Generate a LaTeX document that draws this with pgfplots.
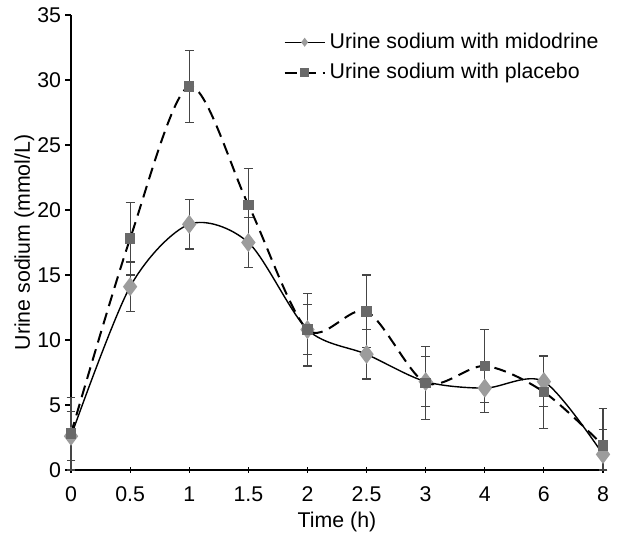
\documentclass[border=0pt]{standalone}
\usepackage{pgfplots}
\pgfplotsset{compat=1.18}
\usepackage{pgfplotstable}
\usepackage{fontspec}
\setmainfont{Liberation Sans}
\definecolor{midc}{HTML}{9C9C9C}
\definecolor{plac}{HTML}{696969}
\definecolor{errc}{HTML}{454545}
\pgfplotstableread{
x y ep em
0 2.6 1.9 1.9
1 14.1 1.9 1.9
2 18.9 1.9 1.9
3 17.5 1.9 1.9
4 10.8 1.9 1.9
5 8.9 1.9 1.9
6 6.8 1.9 1.9
7 6.3 1.9 1.9
8 6.8 1.9 1.9
9 1.2 1.9 1.2
}\middata
\pgfplotstableread{
x y ep em
0 2.8 2.8 2.8
1 17.8 2.8 2.8
2 29.5 2.8 2.8
3 20.4 2.8 2.8
4 10.8 2.8 2.8
5 12.2 2.8 2.8
6 6.7 2.8 2.8
7 8.0 2.8 2.8
8 6.0 2.8 2.8
9 1.9 2.8 1.9
}\placdata
\begin{document}
\begin{tikzpicture}
\path[use as bounding box] (-35.5bp,-33.5bp) rectangle (273.5bp,235bp);
\begin{axis}[
  at={(0,0)}, anchor=south west,
  scale only axis, width=266bp, height=227.5bp,
  xmin=0, xmax=9, ymin=0, ymax=35,
  clip=false,
  axis lines=left,
  axis line style={-, black, line width=0.6bp},
  xtick={0,...,9}, xticklabels={0,0.5,1,1.5,2,2.5,3,4,6,8},
  ytick={0,5,...,35},
  tick style={black, line width=0.6bp},
  xtick align=center, ytick align=outside,
  major tick length=2.8bp,
  tick label style={font=\fontsize{10.7}{12}\selectfont},
  yticklabel style={inner xsep=2bp},
  xticklabel style={yshift=-3.5bp},
  /pgf/number format/assume math mode=true,
  xlabel={Time (h)}, ylabel={Urine sodium (mmol/L)},
  label style={font=\fontsize{10.7}{12}\selectfont},
  xlabel style={yshift=2bp},
  ylabel style={yshift=-4bp},
  legend style={at={(rel axis cs:0.399,0.97)}, anchor=north west, draw=none, fill=none,
    font=\fontsize{10.7}{12}\selectfont, row sep=2bp, inner sep=0pt,
    cells={anchor=west}},
  legend image code/.code={\draw[mark repeat=2,mark phase=2,#1,mark size=1.7bp] plot coordinates {(0bp,0bp) (10bp,0bp) (20bp,0bp)};},
  error bars/error bar style={errc, line width=0.55bp, solid},
  error bars/error mark options={errc, line width=0.55bp, mark size=2.2bp, rotate=90, solid},
]
\addplot[black, line width=0.7bp, smooth, tension=0.5,
  mark=diamond*, mark size=4.2bp, mark options={fill=midc, draw=midc, solid},
  error bars/.cd, y dir=both, y explicit]
  table[x=x, y=y, y error plus=ep, y error minus=em] {\middata};
\addlegendentry{Urine sodium with midodrine}
\addplot[black, line width=1bp, dash pattern=on 6bp off 3.5bp, smooth, tension=0.5,
  mark=square*, mark size=2.1bp, mark options={fill=plac, draw=plac, solid},
  error bars/.cd, y dir=both, y explicit]
  table[x=x, y=y, y error plus=ep, y error minus=em] {\placdata};
\addlegendentry{Urine sodium with placebo}
\end{axis}
\end{tikzpicture}
\end{document}
